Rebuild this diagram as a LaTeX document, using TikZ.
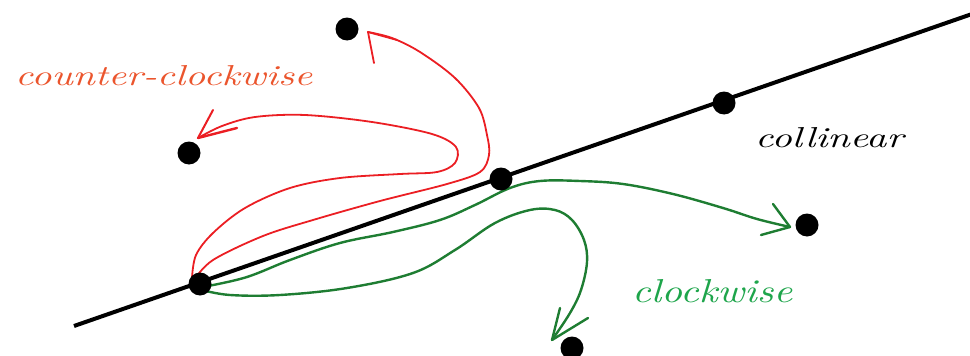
\documentclass[tikz,border=0pt]{standalone}
\usepackage{graphicx}
\definecolor{ccwtext}{RGB}{235,85,45}
\definecolor{redcurve}{RGB}{235,30,35}
\definecolor{greencurve}{RGB}{30,125,50}
\definecolor{cwtext}{RGB}{30,165,75}
\tikzset{
  dot/.style={circle, fill=black, minimum size=23pt, inner sep=0pt},
  redpath/.style={draw=redcurve, line width=1.8pt, line cap=round, line join=round},
  greenpath/.style={draw=greencurve, line width=2.4pt, line cap=round, line join=round},
  label/.style={anchor=base west, inner sep=0pt, font=\itshape}
}
\begin{document}
\begin{tikzpicture}[x=1pt,y=-1pt]
\useasboundingbox (0,0) rectangle (970,356);
% dot positions
\coordinate (c0) at (200,284);
\coordinate (c1) at (501,179);
\coordinate (c2) at (724,103);
\coordinate (ctop) at (347,29);
\coordinate (cleft) at (189,153);
\coordinate (cright) at (807,225);
\coordinate (cbot) at (572,348);
% line
\coordinate (la) at (74,326);
\coordinate (lb) at (972,14);
\draw[line width=4pt] (la) -- (lb);
% arrow tips
\coordinate (tleft) at (198,138);
\coordinate (ttop) at (368,32);
\coordinate (tright) at (790,227);
\coordinate (tbot) at (552,340);
% red curve to left point
\draw[redpath] plot[smooth, tension=0.55] coordinates {(192,278) (196,255) (213,233) (245,208) (290,188) (340,178) (400,174) (437,172) (455,163) (456,147) (432,134) (372,122) (305,115) (255,117) (222,126) (tleft)};
\draw[redpath, line width=2.4pt] (tleft) -- (237,128);
\draw[redpath, line width=2pt] (tleft) -- (213,110);
% red curve to top point
\draw[redpath] plot[smooth, tension=0.55] coordinates {(194,280) (213,260) (263,236) (313,220) (380,201) (447,184) (480,172) (489,155) (487,135) (479,108) (455,78) (420,52) (392,38) (ttop)};
\draw[redpath] (ttop) -- (397,40);
\draw[redpath] (ttop) -- (374,63);
% green curve to right point
\draw[greenpath] plot[smooth, tension=0.6] coordinates {(208,286) (247,277) (290,260) (340,243) (393,232) (440,220) (475,205) (510,188) (540,181) (580,181) (623,184) (673,194) (723,208) (757,219) (tright)};
\draw[greenpath] (tright) -- (773,204);
\draw[greenpath] (tright) -- (761,235);
% green curve to bottom point
\draw[greenpath] plot[smooth, tension=0.6] coordinates {(202,290) (230,295) (280,295) (347,288) (413,273) (455,250) (495,223) (530,210) (555,210) (572,220) (584,240) (587,262) (581,290) (570,313) (tbot)};
\draw[greenpath] (tbot) -- (560,308);
\draw[greenpath] (tbot) -- (588,318);
% dots
\node[dot] (p0) at (c0) {};
\node[dot] (p1) at (c1) {};
\node[dot] (p2) at (c2) {};
\node[dot] (ptop) at (ctop) {};
\node[dot] (pleft) at (cleft) {};
\node[dot] (pright) at (cright) {};
\node[dot] (pbot) at (cbot) {};
% labels
\node[label, text=ccwtext] (lccw) at (15,85) {\resizebox{297pt}{20pt}{counter-clockwise}};
\node[label, text=black] (lcol) at (755,147) {\resizebox{148pt}{20pt}{collinear}};
\node[label, text=cwtext] (lcw) at (632,302) {\resizebox{160pt}{23pt}{clockwise}};
\end{tikzpicture}
\end{document}
